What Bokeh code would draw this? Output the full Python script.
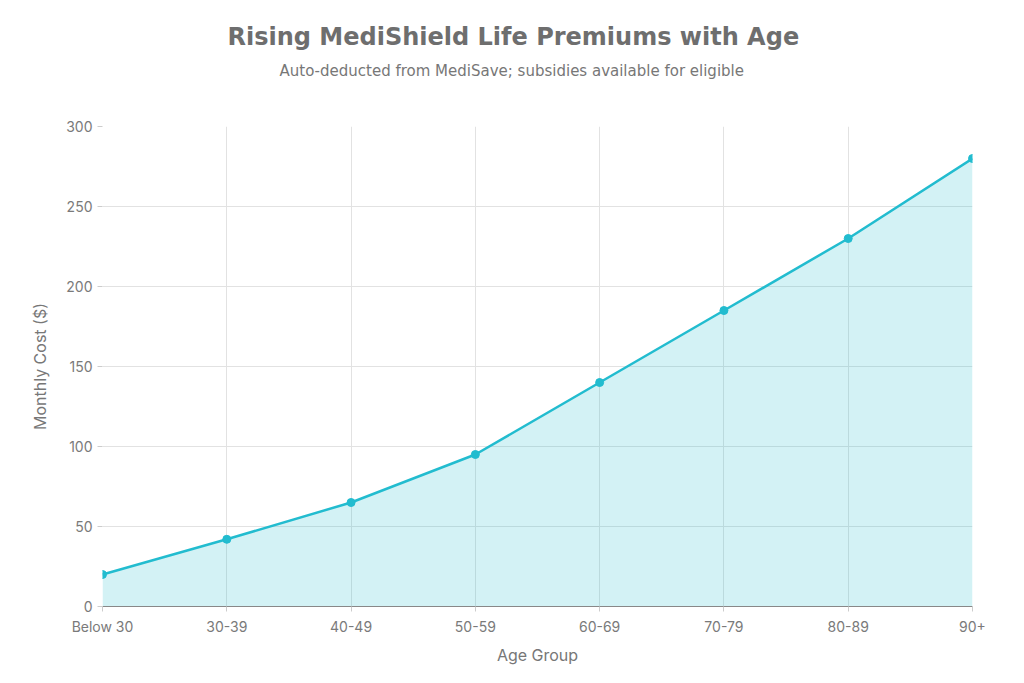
from bokeh.plotting import figure
from bokeh.models import Title, FixedTicker, Range1d
from bokeh.embed import file_html
from bokeh.resources import INLINE

age_groups = ["Below 30", "30-39", "40-49", "50-59", "60-69", "70-79", "80-89", "90+"]
monthly_cost = [20, 42, 65, 95, 140, 185, 230, 280]
y_ticks = [0, 50, 100, 150, 200, 250, 300]

xs = list(range(len(age_groups)))
teal = "#22bccf"
txt = "#777777"

p = figure(width=1008, height=667, title=None, toolbar_location=None,
           output_backend="svg", x_range=Range1d(0, len(age_groups) - 1),
           y_range=Range1d(0, 300), frame_width=870, frame_height=480)
p.min_border_left = 102
p.min_border_right = 36
p.min_border_bottom = 61
p.min_border_top = 126
p.outline_line_color = None

# titles: spacer, then subtitle, then main title (outwards from the plot)
p.add_layout(Title(text=" ", text_font_size="1px", standoff=31), "above")
p.add_layout(Title(text="Auto-deducted from MediSave; subsidies available for eligible",
                   text_font="DejaVu Sans", text_font_size="15px", text_font_style="normal",
                   text_color=txt, align="left", vertical_align="top", standoff=22,
                   offset=177), "above")
p.add_layout(Title(text="Rising MediShield Life Premiums with Age",
                   text_font="DejaVu Sans", text_font_size="24px", text_font_style="bold",
                   text_color="#6e6e6e", align="left", standoff=0, offset=125), "above")

# area + line + points
p.varea(x=xs, y1=[0] * len(xs), y2=monthly_cost, fill_color=teal, fill_alpha=0.2)
p.line(xs, monthly_cost, line_color=teal, line_width=2.5)
p.scatter(xs, monthly_cost, size=8, color=teal)

# axes
p.xaxis.ticker = FixedTicker(ticks=xs)
p.xaxis.major_label_overrides = {i: lab for i, lab in enumerate(age_groups)}
p.yaxis.ticker = FixedTicker(ticks=y_ticks)
p.xaxis.axis_label = "Age Group"
p.yaxis.axis_label = "Monthly Cost ($)"
for ax in (p.xaxis, p.yaxis):
    ax.axis_label_text_font = "Inter"
    ax.axis_label_text_font_size = "16px"
    ax.axis_label_text_font_style = "normal"
    ax.axis_label_text_color = txt
    ax.major_label_text_font = "Inter"
    ax.major_label_text_font_size = "14px"
    ax.major_label_text_color = "#7a7a7a"
    ax.minor_tick_line_color = None
    ax.major_tick_line_color = "#cccccc"
    ax.major_tick_in = 0
    ax.major_tick_out = 5
p.xaxis.axis_line_color = "#888888"
p.yaxis.axis_line_color = None
p.xaxis.major_label_standoff = 6
p.xaxis.axis_label_standoff = 7
p.yaxis.axis_label_standoff = 13

p.grid.grid_line_color = "#e2e2e2"
p.grid.grid_line_width = 1

open("out.html", "w").write(file_html(p, INLINE))
